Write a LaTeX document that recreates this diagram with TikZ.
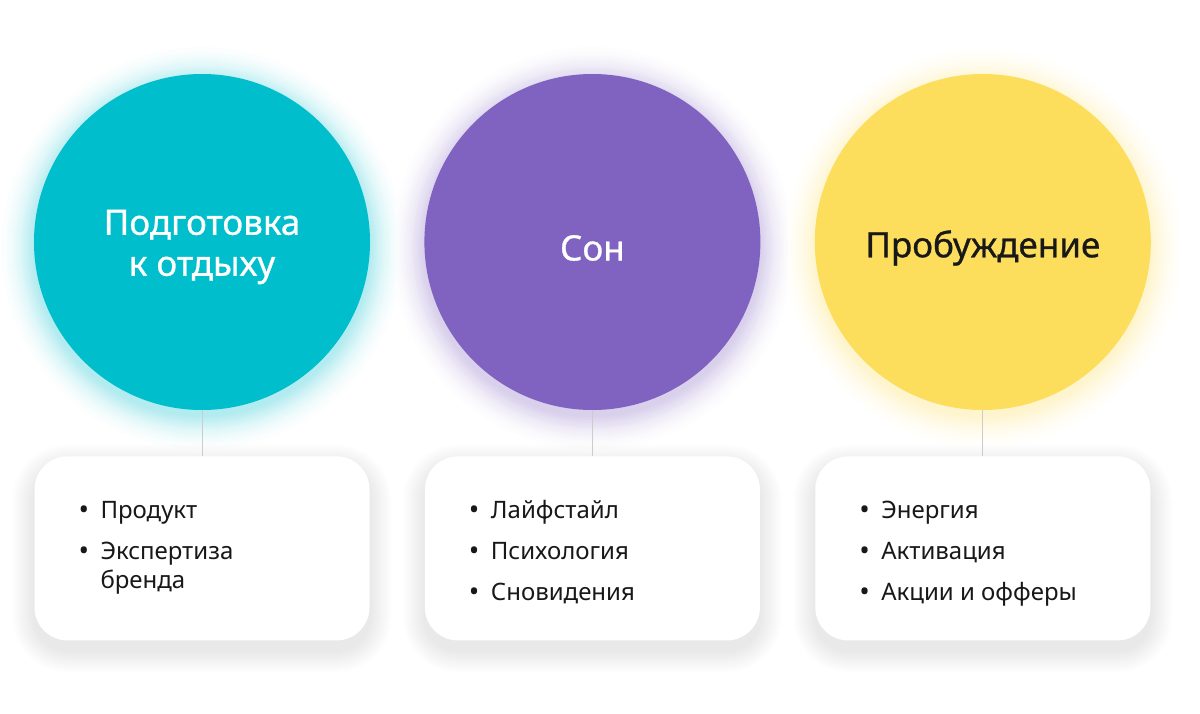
\documentclass[tikz,border=0pt]{standalone}
\usepackage{fontspec}
\setmainfont{Noto Sans}
\newfontfamily\headfont[FakeBold=0.8]{Noto Sans}
\usepackage{xcolor}
\usepackage{tikz}
\usetikzlibrary{positioning}
\usetikzlibrary{backgrounds}

\definecolor{tealc}{RGB}{0,190,204}
\definecolor{violetc}{RGB}{128,98,192}
\definecolor{sunc}{RGB}{253,222,92}
\definecolor{ink}{RGB}{24,24,24}

\tikzset{
  stage/.style={circle, minimum size=336pt, inner sep=0pt},
  stagetext/.style={align=center, inner sep=0pt,
    font=\headfont\fontsize{35}{41}\selectfont},
  card/.style={rectangle, rounded corners=33pt, minimum width=335pt,
    minimum height=184pt, fill=white, inner sep=0pt},
  itemlist/.style={anchor=north west, inner sep=0pt, align=left, text=ink,
    font=\fontsize{24}{29}\selectfont},
  connector/.style={draw=black!20, line width=0.9pt}
}

\newcommand{\dotmark}{\raisebox{-1.5pt}{\fontsize{28}{29}\selectfont\textbullet}}
\newcommand{\bul}{\makebox[22pt][l]{\dotmark}}
\newcommand{\nobul}{\hspace{22pt}}
\newcommand{\topstrut}{\rule{0pt}{24pt}}

\begin{document}
\begin{tikzpicture}[x=1pt,y=-1pt]

\useasboundingbox (0,0) rectangle (1200,713);

% Draw the three stages
\node[stage, fill=tealc] (prep) at (202,242) {};
\node[stage, fill=violetc, right=54pt of prep] (sleep) {};
\node[stage, fill=sunc, right=54pt of sleep] (wake) {};

\node[stagetext, text=white] (preptitle) at ([yshift=-5pt]prep.center) {Подготовка\\к отдыху};
\node[stagetext, text=white] (sleeptitle) at ([yshift=-6pt]sleep.center) {Сон};
\node[stagetext, text=ink] (waketitle) at ([yshift=-6pt]wake.center) {Пробуждение};

% Draw cards below the stages
\node[card, below=46pt of prep] (prepcard) {};
\node[card, below=46pt of sleep] (sleepcard) {};
\node[card, below=46pt of wake] (wakecard) {};

% Draw connectors
\draw[connector] (prep.south) -- (prepcard.north);
\draw[connector] (sleep.south) -- (sleepcard.north);
\draw[connector] (wake.south) -- (wakecard.north);

% Fill in the lists
\node[itemlist] (preplist) at ([xshift=44pt, yshift=-38pt]prepcard.north west)
  {\topstrut\bul Продукт\\[12pt] \bul Экспертиза\\ \nobul бренда};
\node[itemlist] (sleeplist) at ([xshift=44pt, yshift=-38pt]sleepcard.north west)
  {\topstrut\bul Лайфстайл\\[12pt] \bul Психология\\[12pt] \bul Сновидения};
\node[itemlist] (wakelist) at ([xshift=44pt, yshift=-38pt]wakecard.north west)
  {\topstrut\bul Энергия\\[12pt] \bul Активация\\[12pt] \bul Акции и офферы};

% Glows and shadows
\begin{scope}[on background layer]
\fill[white] (0,0) rectangle (1200,713);
\foreach \k in {40,...,1} {
  \pgfmathtruncatemacro{\p}{32*(1-\k/41)^2}
  \foreach \n/\c in {prep/tealc, sleep/violetc, wake/sunc}
    \fill[\c!\p!white] ([yshift=-6pt]\n.center) circle ({168+\k});
}
\foreach \n in {prepcard, sleepcard, wakecard}
  \foreach \k in {1,...,22} {
    \pgfmathsetmacro{\rr}{33+\k}
    \fill[black, opacity=0.0025, rounded corners=\rr pt]
      ([xshift=-\k pt, yshift=-\k pt-10pt]\n.south west) rectangle
      ([xshift=\k pt, yshift=\k pt-10pt]\n.north east);
  }
\end{scope}

\end{tikzpicture}
\end{document}
